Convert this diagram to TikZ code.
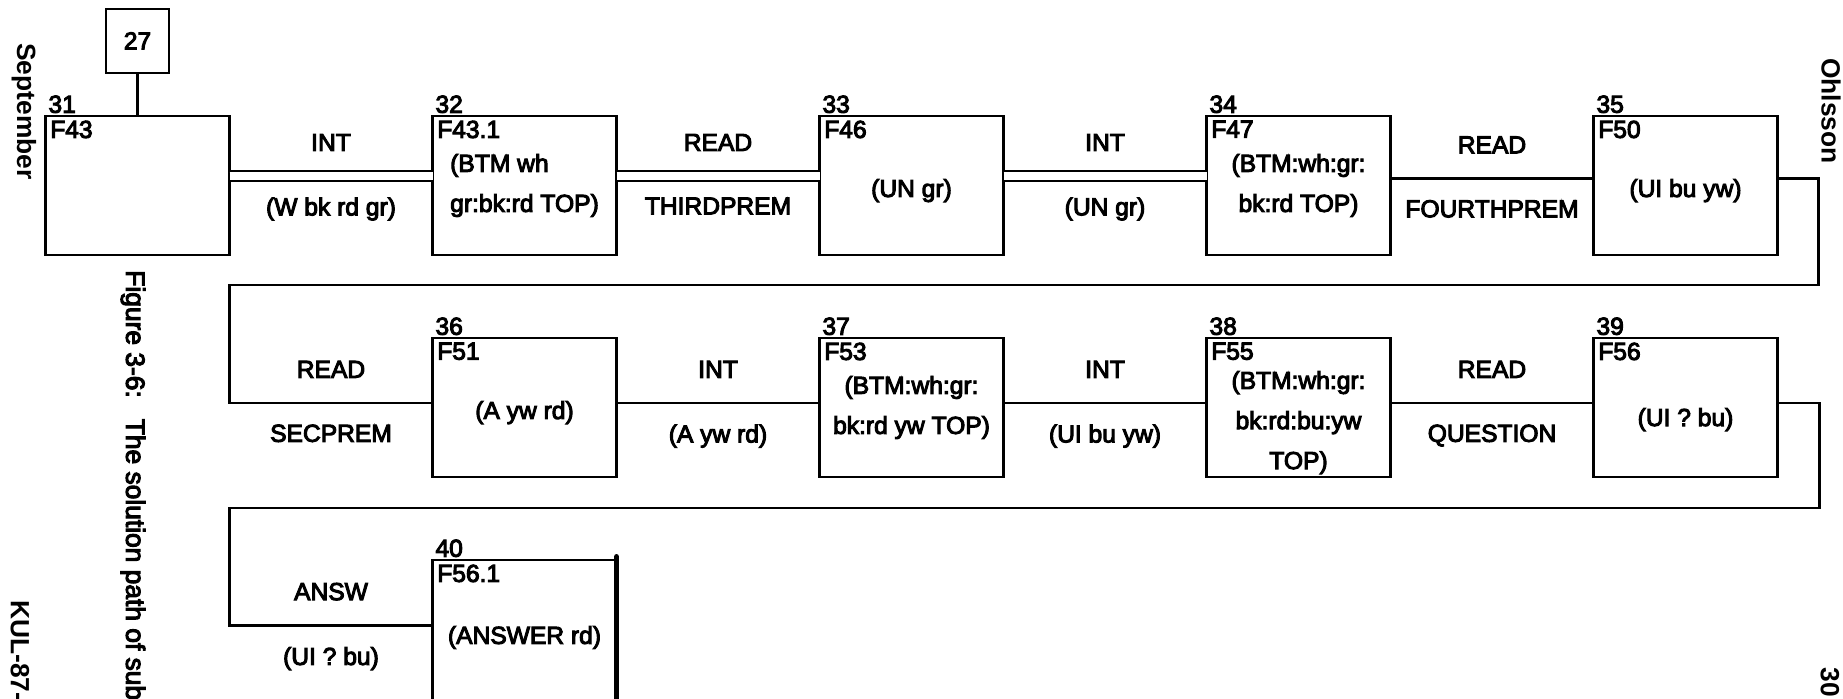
\documentclass[tikz,border=0pt]{standalone}
\usepackage{fontspec}
\setmainfont{Liberation Sans}
\newfontface\diagfont{Liberation Sans}[FakeBold=4]
\usetikzlibrary{positioning, calc}

\begin{document}
\begin{tikzpicture}[
    % Gaps between the rows and between the boxes of one row
    node distance=1.66cm and 4.06cm,
    % Box Styles
    state/.style 2 args={rectangle, draw, line width=1.3pt, minimum width=3.68cm, minimum height=2.78cm, inner sep=0pt, outer sep=0pt, align=center, font=\diagfont\fontsize{14}{22.8}\selectfont,
        label={[anchor=south west, inner sep=1.5pt, font=\diagfont\fontsize{14}{16}\selectfont]north west:#1},
        label={[anchor=north west, inner sep=2.5pt, font=\diagfont\fontsize{14}{16}\selectfont]north west:#2}},
    tag/.style={rectangle, draw, line width=1.3pt, minimum width=1.26cm, minimum height=1.28cm, font=\diagfont\fontsize{14}{16}\selectfont},
    sidenote/.style={rotate=-90, anchor=west, inner sep=0pt, font=\fontsize{15}{18}\selectfont\bfseries},
    % Line Styles
    link/.style={draw, line width=1.3pt},
    dlink/.style={draw, double, double distance=0.17cm, line width=1.2pt},
    lblup/.style={above=0.48cm, inner sep=0pt, font=\diagfont\fontsize{14}{16}\selectfont},
    lbldn/.style={below=0.41cm, inner sep=0pt, font=\diagfont\fontsize{14}{16}\selectfont}
]
    \useasboundingbox (0,0) rectangle (36.86,13.98);
    \clip (0,0) rectangle (36.86,13.98);

    % First row
    \node [state={31}{F43}] (s31) at (2.75,10.27) {};
    \node [state={32}{F43.1}, right=of s31, align=left] (s32) {(BTM wh\\gr:bk:rd TOP)};
    \node [state={33}{F46}, right=of s32, text height=16pt] (s33) {(UN gr)};
    \node [state={34}{F47}, right=of s33] (s34) {(BTM:wh:gr:\\bk:rd TOP)};
    \node [state={35}{F50}, right=of s34, text height=16pt] (s35) {(UI bu yw)};
    \node [tag, above=0.84cm of s31] (s27) {27};

    % Second row
    \node [state={36}{F51}, below=of s32, text height=16pt] (s36) {(A yw rd)};
    \node [state={37}{F53}, right=of s36] (s37) {(BTM:wh:gr:\\bk:rd yw TOP)};
    \node [state={38}{F55}, right=of s37, text height=73pt] (s38) {(BTM:wh:gr:\\bk:rd:bu:yw\\TOP)};
    \node [state={39}{F56}, right=of s38, text height=24pt] (s39) {(UI ? bu)};

    % Third row
    \node [state={40}{F56.1}, below=of s36, minimum height=3.1cm] (s40) {(ANSWER rd)};

    % Connections
    \draw [link] (s27) -- (s31);
    \draw [dlink] ([yshift=1.9mm]s31.east) -- node[lblup] {INT} node[lbldn] {(W bk rd gr)} ([yshift=1.9mm]s32.west);
    \draw [dlink] ([yshift=1.9mm]s32.east) -- node[lblup] {READ} node[lbldn] {THIRDPREM} ([yshift=1.9mm]s33.west);
    \draw [dlink] ([yshift=1.9mm]s33.east) -- node[lblup] {INT} node[lbldn] {(UN gr)} ([yshift=1.9mm]s34.west);
    \draw [link] ([yshift=1.4mm]s34.east) -- node[lblup] {READ} node[lbldn] {FOURTHPREM} ([yshift=1.4mm]s35.west);

    % Wrap round to the second row
    \coordinate (turnA) at ($(s31.east |- s35.south)+(0,-0.6)$);
    \draw [link] ([yshift=1.4mm]s35.east) -- ++(0.82,0) |- (turnA) |- node[pos=0.75, lblup] {READ} node[pos=0.75, lbldn] {SECPREM} ([yshift=0.9mm]s36.west);
    \draw [link] ([yshift=0.9mm]s36.east) -- node[lblup] {INT} node[lbldn] {(A yw rd)} ([yshift=0.9mm]s37.west);
    \draw [link] ([yshift=0.9mm]s37.east) -- node[lblup] {INT} node[lbldn] {(UI bu yw)} ([yshift=0.9mm]s38.west);
    \draw [link] ([yshift=0.9mm]s38.east) -- node[lblup] {READ} node[lbldn] {QUESTION} ([yshift=0.9mm]s39.west);

    % Wrap round to the third row
    \coordinate (turnB) at ($(s31.east |- s39.south)+(0,-0.62)$);
    \draw [link] ([yshift=0.9mm]s39.east) -- ++(0.84,0) |- (turnB) |- node[pos=0.75, lblup] {ANSW} node[pos=0.75, lbldn] {(UI ? bu)} ([yshift=2.4mm]s40.west);
    \draw [line width=3.4pt, line cap=round] ([yshift=0.06cm]s40.north east) -- (s40.south east);

    % Page margin texts
    \node [sidenote] (month) at (0.48,13.12) {September};
    \node [sidenote] (author) at (36.62,12.82) {Ohlsson};
    \node [sidenote, font=\diagfont\fontsize{15}{18}\selectfont] (caption) at (2.66,8.58) {Figure 3-6:\hspace{0.42cm}The solution path of sub};
    \node [sidenote] (report) at (0.40,1.98) {KUL-87-};
    \node [sidenote] (page) at (36.60,0.64) {30};
\end{tikzpicture}
\end{document}
